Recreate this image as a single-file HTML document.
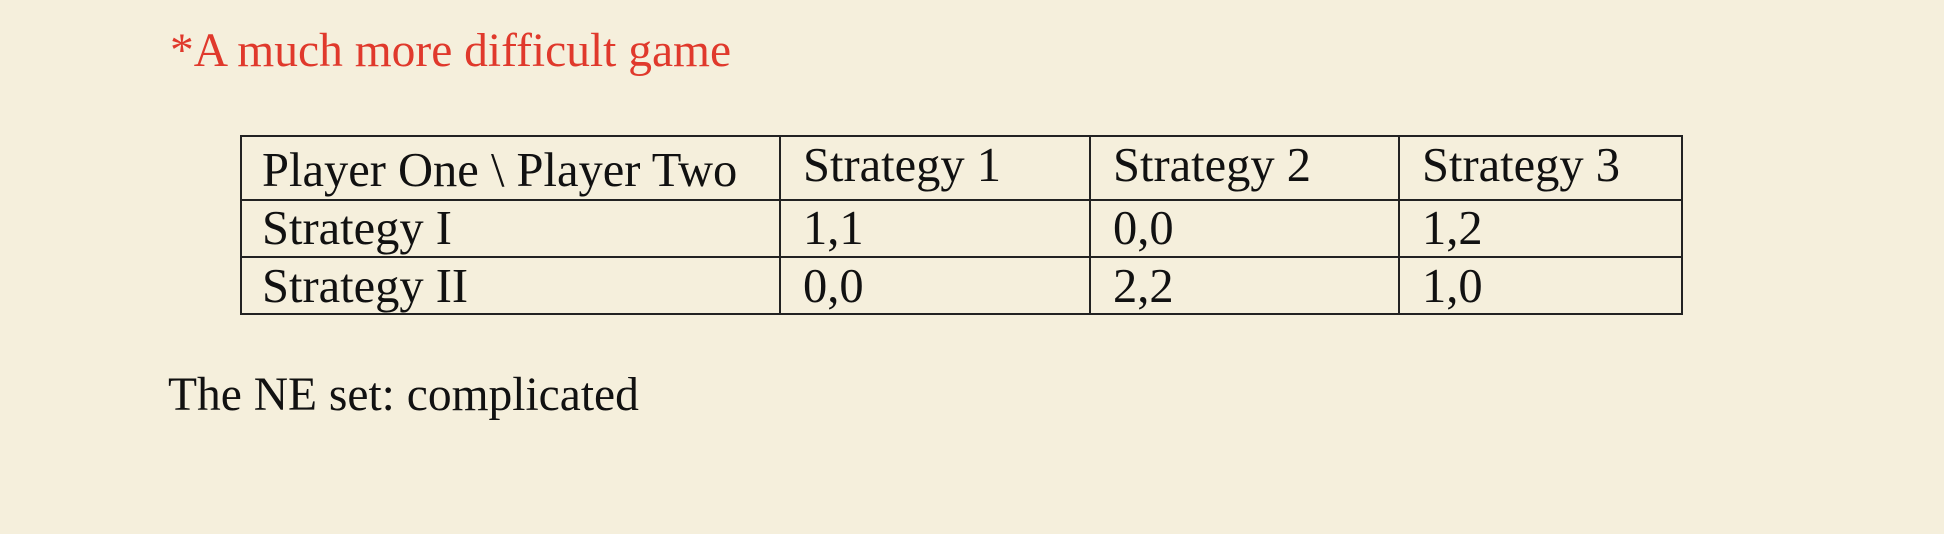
<!DOCTYPE html>
<html><head><meta charset="utf-8"><style>
html,body{margin:0;padding:0}
body{width:1944px;height:534px;background:#f5efdc;position:relative;overflow:hidden;font-family:"Liberation Serif",serif;font-size:47.5px;color:#111}
.t{position:absolute;white-space:nowrap;line-height:1}
.c{font-size:48.5px}
.h{position:absolute;background:#222;height:2px}
.v{position:absolute;background:#222;width:2px}
</style></head><body>
<div class="t" style="left:170px;top:28px;color:#e0392c">*A much more difficult game</div>
<div>
<div class="h" style="left:240px;top:135px;width:1443px"></div>
<div class="h" style="left:240px;top:199px;width:1443px"></div>
<div class="h" style="left:240px;top:256px;width:1443px"></div>
<div class="h" style="left:240px;top:313px;width:1443px"></div>
<div class="v" style="left:240px;top:135px;height:180px"></div>
<div class="v" style="left:779px;top:135px;height:180px"></div>
<div class="v" style="left:1089px;top:135px;height:180px"></div>
<div class="v" style="left:1398px;top:135px;height:180px"></div>
<div class="v" style="left:1681px;top:135px;height:180px"></div>
<div class="t c" style="left:262px;top:147px">Player One \ Player Two</div>
<div class="t c" style="left:803px;top:142px">Strategy 1</div>
<div class="t c" style="left:1113px;top:142px">Strategy 2</div>
<div class="t c" style="left:1422px;top:142px">Strategy 3</div>
<div class="t c" style="left:262px;top:205px">Strategy I</div>
<div class="t c" style="left:803px;top:205px">1,1</div>
<div class="t c" style="left:1113px;top:205px">0,0</div>
<div class="t c" style="left:1422px;top:205px">1,2</div>
<div class="t c" style="left:262px;top:263px">Strategy II</div>
<div class="t c" style="left:803px;top:263px">0,0</div>
<div class="t c" style="left:1113px;top:263px">2,2</div>
<div class="t c" style="left:1422px;top:263px">1,0</div>
</div>
<div class="t" style="left:168px;top:372px">The NE set: complicated</div>
</body></html>
